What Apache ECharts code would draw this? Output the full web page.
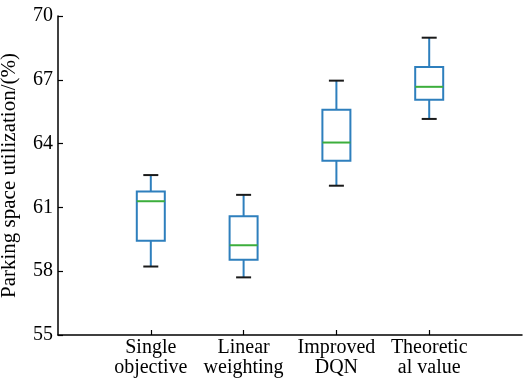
<!DOCTYPE html>
<html>
<head>
<meta charset="utf-8">
<script src="https://cdn.jsdelivr.net/npm/echarts@6/dist/echarts.min.js"></script>
<style>
html,body{margin:0;padding:0;background:#fff;}
#chart{width:523px;height:382px;}
</style>
</head>
<body>
<div id="chart"></div>
<script>
const categories = ['Single\nobjective', 'Linear\nweighting', 'Improved\nDQN', 'Theoretic\nal value'];
const positions = [1, 2, 3, 4];
const minVals = [58.22, 57.71, 62.02, 65.16];
const q1Vals = [59.43, 58.54, 63.19, 66.06];
const medianVals = [61.29, 59.22, 64.05, 66.67];
const q3Vals = [61.75, 60.58, 65.59, 67.60];
const maxVals = [62.52, 61.59, 66.96, 68.98];
const yTicks = [55, 58, 61, 64, 67, 70];
const yTitle = 'Parking space utilization/(%)';

const FONT = "'Liberation Serif', 'Times New Roman', serif";
const BLUE = '#2e7fbd';
const GREEN = '#3cae3c';
const CAP = '#1a1a1a';

const data = positions.map((p, i) => [p, minVals[i], q1Vals[i], medianVals[i], q3Vals[i], maxVals[i]]);

const chart = echarts.init(document.getElementById('chart'), null, {renderer: 'canvas'});
chart.setOption({
  animation: false,
  backgroundColor: '#fff',
  grid: {left: 58, right: 1, top: 16, bottom: 47, containLabel: false, outerBoundsMode: 'none'},
  xAxis: {
    type: 'value', min: 0, max: 5,
    axisLine: {show: true, lineStyle: {color: '#000', width: 1.5}},
    axisTick: {show: true, inside: true, length: 5, customValues: positions, lineStyle: {color: '#000', width: 1.2}},
    axisLabel: {
      customValues: positions,
      formatter: v => categories[positions.indexOf(v)] || '',
      fontFamily: FONT, fontSize: 20, color: '#000', lineHeight: 20, margin: 3
    },
    splitLine: {show: false}
  },
  yAxis: {
    type: 'value', min: 55, max: 70,
    name: yTitle, nameLocation: 'middle', nameGap: 38,
    nameTextStyle: {fontFamily: FONT, fontSize: 21, color: '#000'},
    axisLine: {show: true, lineStyle: {color: '#000', width: 1.5}},
    axisTick: {show: true, inside: true, length: 5, customValues: yTicks, lineStyle: {color: '#000', width: 1.2}},
    axisLabel: {customValues: yTicks, fontFamily: FONT, fontSize: 20, color: '#000', margin: 5},
    splitLine: {show: false}
  },
  series: [{
    type: 'custom',
    data: data,
    encode: {x: 0, y: [1, 2, 3, 4, 5]},
    renderItem: function (params, api) {
      const x = api.value(0);
      const pMin = api.coord([x, api.value(1)]);
      const pQ1 = api.coord([x, api.value(2)]);
      const pMed = api.coord([x, api.value(3)]);
      const pQ3 = api.coord([x, api.value(4)]);
      const pMax = api.coord([x, api.value(5)]);
      const cx = pMin[0];
      const hb = 14, hc = 7.5;
      return {
        type: 'group',
        children: [
          {type: 'line', shape: {x1: cx, y1: pMin[1], x2: cx, y2: pQ1[1]}, style: {stroke: BLUE, lineWidth: 2}},
          {type: 'line', shape: {x1: cx, y1: pQ3[1], x2: cx, y2: pMax[1]}, style: {stroke: BLUE, lineWidth: 2}},
          {type: 'rect', shape: {x: cx - hb, y: pQ3[1], width: 2 * hb, height: pQ1[1] - pQ3[1]}, style: {fill: 'none', stroke: BLUE, lineWidth: 2}},
          {type: 'line', shape: {x1: cx - hb, y1: pMed[1], x2: cx + hb, y2: pMed[1]}, style: {stroke: GREEN, lineWidth: 2}},
          {type: 'line', shape: {x1: cx - hc, y1: pMin[1], x2: cx + hc, y2: pMin[1]}, style: {stroke: CAP, lineWidth: 2}},
          {type: 'line', shape: {x1: cx - hc, y1: pMax[1], x2: cx + hc, y2: pMax[1]}, style: {stroke: CAP, lineWidth: 2}}
        ]
      };
    }
  }]
});
</script>
</body>
</html>
